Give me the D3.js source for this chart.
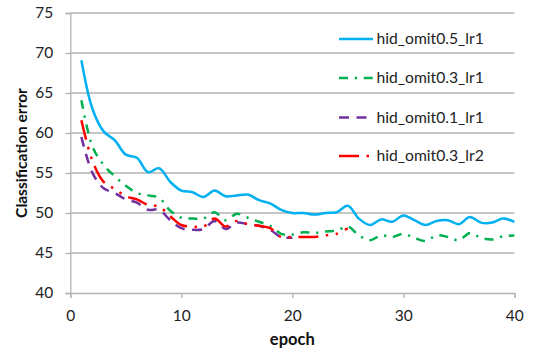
<!DOCTYPE html>
<html><head><meta charset="utf-8">
<script src="https://cdn.jsdelivr.net/npm/d3@7"></script>
<style>body{margin:0;background:#fff;} svg{display:block;}</style>
</head><body>
<svg id="c" width="533" height="353"></svg>
<script>
const seriesNames = ["hid_omit0.5_lr1","hid_omit0.3_lr1","hid_omit0.1_lr1","hid_omit0.3_lr2"];
const omit05_lr1 = [69.1,63.0,60.2,59.1,57.3,56.9,55.1,55.6,53.9,52.8,52.6,52.0,52.8,52.1,52.2,52.3,51.6,51.2,50.4,50.0,50.0,49.8,50.0,50.1,50.9,49.3,48.5,49.2,48.9,49.7,49.1,48.5,49.0,49.1,48.6,49.5,48.8,48.8,49.3,48.9];
const omit03_lr1 = [64.1,58.3,56.0,54.6,53.4,52.5,52.2,51.9,50.3,49.4,49.3,49.3,50.1,49.1,49.9,49.4,48.9,48.4,47.4,47.3,47.6,47.5,47.7,47.8,48.3,47.2,46.6,47.2,47.0,47.4,46.9,46.5,47.2,47.0,46.6,47.5,46.9,46.7,47.1,47.2];
const omit01_lr1 = [59.5,55.0,53.1,52.5,51.7,51.3,50.4,50.4,49.1,48.1,47.9,48.0,49.0,48.0,48.8,48.6,48.4,47.9,47.0,46.9];
const omit03_lr2 = [61.6,56.5,53.9,53.0,52.1,51.7,51.0,50.8,49.6,48.5,48.3,48.3,49.3,48.3,49.0,48.6,48.4,48.1,47.0,47.0,47.0,47.0,47.2,47.4,48.1];
const xTicks = [0,10,20,30,40];
const yTicks = [40,45,50,55,60,65,70,75];
const colors = ["#00B0F0","#00B050","#7030A0","#FF0000"];
const dashes = [null,"9,6.75,2.25,6.75","10,7.5","20,7.5,2.5,7.5,2.5,7.5"];

const svg = d3.select("#c");
const x = d3.scaleLinear().domain([0,40]).range([70.3,514.3]);
const y = d3.scaleLinear().domain([40,75]).range([293,13]);
const font = "Lato, 'Open Sans', sans-serif";

// gridlines
svg.append("g").selectAll("line").data(yTicks.filter(d=>d>40)).join("line")
  .attr("x1",x(0)).attr("x2",x(40)).attr("y1",d=>y(d)).attr("y2",d=>y(d))
  .attr("stroke","#B3B3B3").attr("stroke-width",1.3);

// y axis
const ya = svg.append("g").attr("transform",`translate(${x(0)},0)`)
  .call(d3.axisLeft(y).tickValues(yTicks).tickSize(5).tickPadding(12));
ya.select(".domain").attr("stroke","#B3B3B3").attr("stroke-width",1.3);
ya.selectAll(".tick line").attr("stroke","#B3B3B3").attr("stroke-width",1.3);
ya.selectAll("text").attr("font-family",font).attr("font-size",15.5).attr("fill","#222");

// x axis
const xa = svg.append("g").attr("transform",`translate(0,${y(40)})`)
  .call(d3.axisBottom(x).tickValues(xTicks).tickSize(5).tickPadding(12));
xa.select(".domain").attr("stroke","#B3B3B3").attr("stroke-width",1.3);
xa.selectAll(".tick line").attr("stroke","#B3B3B3").attr("stroke-width",1.3);
xa.selectAll("text").attr("font-family",font).attr("font-size",15.5).attr("fill","#222");

// axis titles
svg.append("text").attr("transform",`translate(27,${y(57.5)}) rotate(-90)`)
  .attr("text-anchor","middle").attr("font-family",font).attr("font-weight","bold")
  .attr("font-size",15.5).attr("fill","#111").text("Classification error");
svg.append("text").attr("x",x(20)).attr("y",345).attr("text-anchor","middle")
  .attr("font-family",font).attr("font-weight","bold").attr("font-size",16.5).attr("fill","#111").text("epoch");

// lines
const all = [omit05_lr1, omit03_lr1, omit01_lr1, omit03_lr2];
const line = d3.line().x((d,i)=>x(i+1)).y(d=>y(d)).curve(d3.curveCatmullRom.alpha(0.5));
all.forEach((s,k)=>{
  const p = svg.append("path").attr("d",line(s)).attr("fill","none")
    .attr("stroke",colors[k]).attr("stroke-width",2.5).attr("stroke-linejoin","round");
  if(dashes[k]) p.attr("stroke-dasharray",dashes[k]);
});

// legend
const lg = svg.append("g");
const ly = [39,78,117.5,156];
seriesNames.forEach((n,k)=>{
  const l = lg.append("line").attr("x1",339).attr("x2",373).attr("y1",ly[k]).attr("y2",ly[k])
    .attr("stroke",colors[k]).attr("stroke-width",2.5);
  if(dashes[k]) l.attr("stroke-dasharray",dashes[k]);
  lg.append("text").attr("x",376.5).attr("y",ly[k]).attr("dy","0.35em")
    .attr("font-family",font).attr("font-size",15.7).attr("fill","#222").text(n);
});
</script>
</body></html>
